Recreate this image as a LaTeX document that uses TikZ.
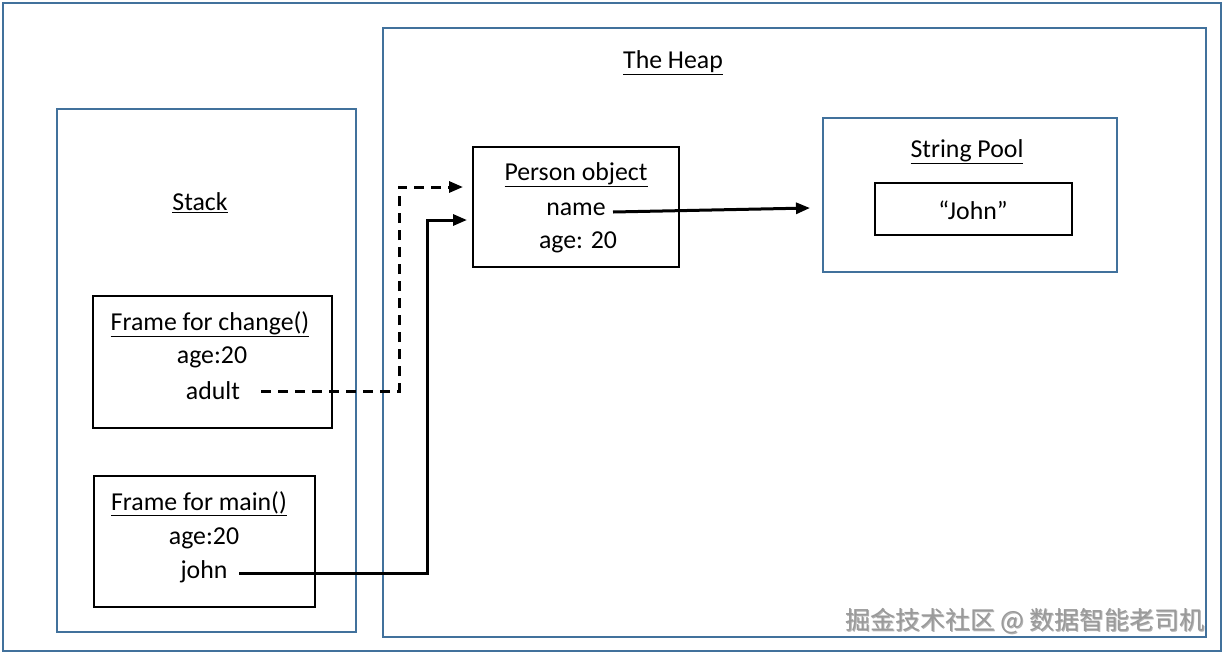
\documentclass[tikz,border=0pt]{standalone}
\usepackage{fontspec}
\setmainfont{Carlito}
\newfontfamily\cjkfont{Noto Sans CJK SC}
\usetikzlibrary{arrows.meta,calc}
\definecolor{frameblue}{HTML}{41719C}
\definecolor{wmgray}{HTML}{9A9A9A}
\begin{document}
\begin{tikzpicture}[x=1pt,y=-1pt,
  bluebox/.style={draw=frameblue,line width=1.8pt},
  blackbox/.style={draw=black,line width=2.2pt},
  txt/.style={inner sep=0pt,font=\fontsize{25.8}{30}\selectfont},
  conn/.style={line width=3pt,-{Triangle[length=14pt,width=11pt]}},
  dashconn/.style={conn,dash pattern=on 10pt off 7pt}]
\useasboundingbox (0,0) rectangle (1224,654);
\fill[white] (0,0) rectangle (1224,654);
% frames
\draw[bluebox] (3,3) rectangle (1221,651);
\draw[bluebox] (383,28) rectangle (1206,637);
\draw[bluebox] (57,109) rectangle (356,632);
\draw[bluebox] (823,118) rectangle (1117,272);
\node[blackbox,minimum width=206pt,minimum height=120pt,inner sep=0pt] (person) at (576,207) {};
\node[blackbox,minimum width=197pt,minimum height=52pt,inner sep=0pt] (johnbox) at (973.5,209) {};
\node[blackbox,minimum width=239pt,minimum height=132pt,inner sep=0pt] (change) at (212.5,362) {};
\node[blackbox,minimum width=221pt,minimum height=131pt,inner sep=0pt] (mainf) at (204.5,541.5) {};
% titles
\node[txt] (heap) at (673,63) {\underline{The Heap}};
\node[txt] (stack) at (200,203) {\underline{Stack}};
\node[txt] (pool) at (967,152) {\underline{String Pool}};
\node[txt] (ptitle) at (576,175) {\underline{Person object}};
\node[txt] (pname) at (576,209) {name};
\node[txt] (page) at (578,242) {age: 20};
\node[txt] (jtext) at (973,210) {“John”};
\node[txt] (ctitle) at (210,324) {\underline{Frame for change()}};
\node[txt] (cage) at (212,357) {age:20};
\node[txt] (adult) at (213,391) {adult};
\node[txt] (mtitle) at (199,504) {\underline{Frame for main()}};
\node[txt] (mage) at (204,538) {age:20};
\node[txt] (john) at (204,572) {john};
% connector endpoints
\coordinate (dashend) at (463,187);
\coordinate (solidend) at (467,220);
\coordinate (poolend) at (810,208);
\draw[dashconn] (261,391) -- (399,391) |- (dashend);
\draw[conn] (239,573) -- (427,573) |- (solidend);
\draw[conn] (613,212) -- (poolend);
% watermark
\node[inner sep=0pt,text=black!30,font=\cjkfont\fontsize{25}{29}\selectfont] at (1026,622) {掘金技术社区 @ 数据智能老司机};
\node[inner sep=0pt,text=wmgray,font=\cjkfont\fontsize{25}{29}\selectfont] (wm) at (1025,621) {掘金技术社区 @ 数据智能老司机};
\end{tikzpicture}
\end{document}
